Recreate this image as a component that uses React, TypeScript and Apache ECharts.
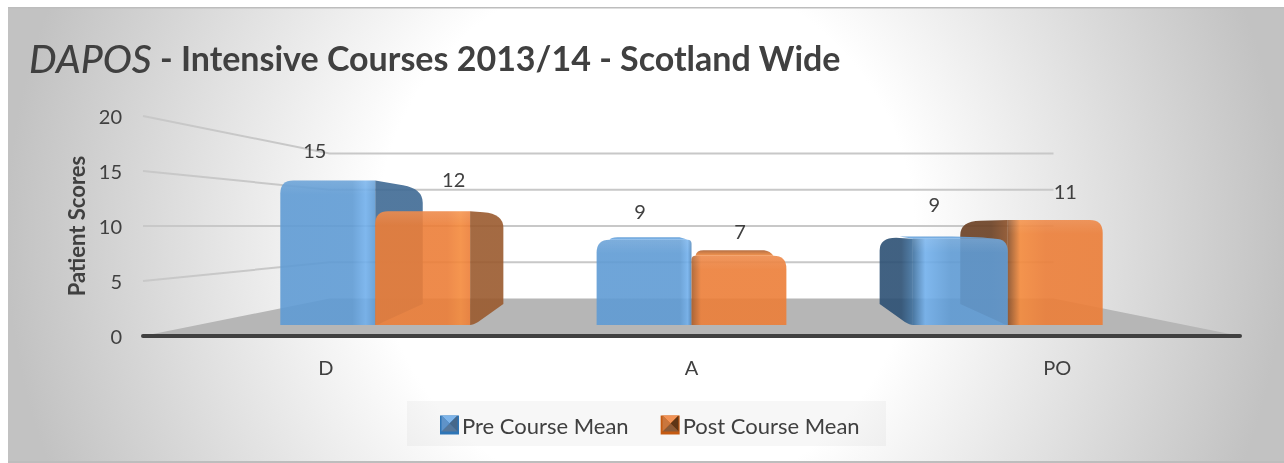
import React, { useEffect, useRef } from "react";
import * as echarts from "echarts";

const categories = ["D", "A", "PO"];
const preCourseMean = [14.6, 8.6, 8.7];
const postCourseMean = [11.5, 7.0, 10.6];
const tickValues = [0, 5, 10, 15, 20];

// label nudges from the bar's front-top centre (layout only)
const preLabelNudge = [[-13, -30], [-4, -26], [-26, -33]];
const postLabelNudge = [[31, -32], [1, -19], [10, -29]];

const FONT = "Lato";
const TEXT = "#404040";
const HORIZON_VALUE = 10;
const WALL_X = 0.66, WALL_Y = 0.659;
const FRONT_X = 0.865, BACK_X = 0.735, FRONT_Y = 0.9, BACK_Y = 0.736;
const R = 13;

const BLUE = { face: "#5f9bd4", hi: "#72b0ec", edge: "#4f86bb", side: "#3f6a94", dark: "#2c5074", mid: "#3f719f", sliver: "#5f9bd4" };
const ORANGE = { face: "#ec7e38", hi: "#f48a3c", edge: "#a95c28", side: "#9a5a2e", dark: "#6a3f22", mid: "#8c5028", sliver: "#ad6030" };

const lin = (stops: [number, string][]) =>
  new echarts.graphic.LinearGradient(0, 0, 1, 0, stops.map(([offset, color]) => ({ offset, color })));

function wallsItem(_params: any, api: any) {
  const band = api.size([1, 0])[0];
  const vx = api.coord([1, 0])[0];
  const vy = api.coord([0, HORIZON_VALUE])[1];
  const x0 = api.coord([0, 0])[0] - band / 2;
  const x1 = api.coord([2, 0])[0] + band / 2;
  const bx = (x: number) => vx + (x - vx) * WALL_X;
  const by = (y: number) => vy + (y - vy) * WALL_Y;
  const y0 = api.coord([0, 0])[1];
  const children: any[] = [
    {
      type: "polygon",
      shape: { points: [[x0, y0], [bx(x0), by(y0)], [bx(x1), by(y0)], [x1, y0]] },
      style: { fill: "#b6b6b6" },
      z2: 0,
    },
  ];
  tickValues.slice(1).forEach((t) => {
    const y = api.coord([0, t])[1];
    children.push({
      type: "polyline",
      shape: { points: [[x0, y], [bx(x0), by(y)], [bx(x1), by(y)]] },
      style: { stroke: "#c8c8c8", lineWidth: 2, fill: "none" },
      z2: 1,
    });
  });
  return { type: "group", children };
}

function barItem(series: number, palette: typeof BLUE, nudges: number[][]) {
  return (_params: any, api: any) => {
    const cat = api.value(0);
    const v = api.value(1);
    const band = api.size([1, 0])[0];
    const barW = band * 0.3;
    const [cx, yTop] = api.coord([cat, v]);
    const y0 = api.coord([cat, 0])[1];
    const vx = api.coord([1, 0])[0];
    const vy = api.coord([0, HORIZON_VALUE])[1];
    const xl = series === 0 ? cx - barW : cx;
    const xr = series === 0 ? cx : cx + barW;
    const fx = (x: number) => vx + (x - vx) * FRONT_X;
    const bkx = (x: number) => vx + (x - vx) * BACK_X;
    const fy = (y: number) => vy + (y - vy) * FRONT_Y;
    const bky = (y: number) => vy + (y - vy) * BACK_Y;
    const lf = fx(xl), rf = fx(xr), tf = fy(yTop), bf = fy(y0);
    const lb = bkx(xl), rb = bkx(xr), tb = bky(yTop), bb = bky(y0);
    const rightSide = rb > rf + 1;
    const leftSide = lb < lf - 1;
    // painter's order: nearer the centre of the view is drawn later
    const base = 10 + (leftSide ? (series === 0 ? 20 : 10) : series === 0 ? 10 : 20);
    const o = 0.9;
    const children: any[] = [];
    const CX = 20, CY = 14;
    const rl = Math.abs(lf - vx) < 2 ? 4 : R;
    const rr = Math.abs(rf - vx) < 2 ? 4 : R;

    if (rightSide) {
      const len = Math.hypot(rb - rf, tb - tf);
      const px = rb - ((rb - rf) * CX) / len, py = tb - ((tb - tf) * CX) / len;
      children.push({
        type: "path",
        shape: { pathData: `M${rf} ${tf}L${px} ${py}Q${rb} ${tb} ${rb} ${tb + CY}L${rb} ${bb - 3}L${rf + 8} ${bf - 3}Q${rf + 3} ${bf} ${rf} ${bf}Z` },
        style: { fill: lin([[0, palette.side], [1, palette.side]]), opacity: o },
        z2: base,
      });
    }
    if (leftSide) {
      const len = Math.hypot(lf - lb, tb - tf);
      const px = lb + ((lf - lb) * CX) / len, py = tb + ((tf - tb) * CX) / len;
      children.push({
        type: "path",
        shape: { pathData: `M${lf} ${tf}L${px} ${py}Q${lb} ${tb} ${lb} ${tb + CY}L${lb} ${bb - 3}L${lf - 8} ${bf - 3}Q${lf - 3} ${bf} ${lf} ${bf}Z` },
        style: { fill: lin([[0, palette.dark], [0.65, palette.dark], [1, palette.mid]]), opacity: o },
        z2: base,
      });
    }
    const topL = leftSide ? lf : lf + rl;
    const topR = rightSide ? rf : rf - rr;
    if (tb < tf - 1) {
      const sl = leftSide ? lb + CX : lb;
      const sr = rightSide ? rb - CX : Math.min(rb, topR) - 8;
      const leftCurve = leftSide ? `L${sl} ${tb}` : `Q${topL + 1} ${tb} ${topL + 8} ${tb}`;
      children.push({
        type: "path",
        shape: { pathData: `M${topL} ${tf}${leftCurve}L${sr} ${tb}Q${topR - 3} ${tb + 1} ${topR} ${tf}Z` },
        style: {
          fill: new echarts.graphic.LinearGradient(0, 0, 0, 1, [
            { offset: 0, color: palette.sliver },
            { offset: 1, color: palette.hi },
          ]),
          opacity: o,
        },
        z2: base,
      });
    }
    let frontStops: [number, string][];
    if (rightSide) {
      frontStops = [[0, palette.face], [0.76, palette.face], [0.9, palette.hi], [1, palette.face]];
    } else if (leftSide) {
      frontStops = [[0, palette.mid], [0.13, palette.hi], [0.4, palette.face], [1, palette.face]];
    } else if (Math.abs(rf - vx) < 2) {
      frontStops = [[0, palette.face], [0.88, palette.face], [0.96, palette.hi], [1, palette.edge]];
    } else {
      frontStops = [[0, palette.edge], [0.1, palette.face], [1, palette.face]];
    }
    const tlPath = leftSide ? `M${lf} ${tf}` : `M${lf} ${tf + rl}Q${lf} ${tf} ${lf + rl} ${tf}`;
    const trPath = rightSide ? `L${rf} ${tf}` : `L${rf - rr} ${tf}Q${rf} ${tf} ${rf} ${tf + rr}`;
    children.push({
      type: "path",
      shape: { pathData: `${tlPath}${trPath}L${rf} ${bf}L${lf} ${bf}Z` },
      style: { fill: lin(frontStops), opacity: o },
      z2: base + 1,
    });
    children.push({
      type: "path",
      shape: { pathData: `${tlPath}${trPath}L${rf} ${tf + 14}L${lf} ${tf + 14}Z` },
      style: {
        fill: new echarts.graphic.LinearGradient(0, 0, 0, 1, [
          { offset: 0, color: "rgba(255,255,255,0.1)" },
          { offset: 1, color: "rgba(255,255,255,0)" },
        ]),
      },
      z2: base + 2,
    });
    const n = nudges[cat];
    children.push({
      type: "text",
      style: {
        text: String(Math.round(v)),
        x: (lf + rf) / 2 + n[0],
        y: Math.min(tf, tb) + n[1],
        align: "center",
        verticalAlign: "middle",
        fontFamily: FONT,
        fontSize: 20,
        fill: TEXT,
      },
      z2: 1000,
    });
    return { type: "group", children };
  };
}

function legendIcon(x: number, y: number, s: number, cols: string[]) {
  const c = [x + s / 2, y + s / 2];
  const a = [x, y], b = [x + s, y], d = [x + s, y + s], e = [x, y + s];
  const tri = [[a, b], [b, d], [d, e], [e, a]];
  return tri.map(([p, q], i) => ({
    type: "polygon",
    z: 10,
    silent: true,
    shape: { points: [p, q, c] },
    style: { fill: cols[i] },
  }));
}

export default function App() {
  const ref = useRef<HTMLDivElement>(null);
  useEffect(() => {
    const chart = echarts.init(ref.current!, undefined, { renderer: "svg" });
    chart.setOption({
      animation: false,
      title: {
        left: 29,
        top: 38,
        padding: 0,
        text: "{a|DAPOS}{b| - Intensive Courses 2013/14 - Scotland Wide}",
        textStyle: {
          rich: {
            a: { fontFamily: FONT, fontStyle: "italic", fontSize: 39, color: TEXT, fontWeight: 500 },
            b: { fontFamily: FONT, fontWeight: "bold", fontSize: 34, color: TEXT },
          },
        },
      },
      legend: {
        left: 440,
        top: 414,
        padding: 0,
        icon: "rect",
        itemWidth: 19,
        itemHeight: 19,
        itemGap: 32,
        selectedMode: false,
        data: ["Pre Course Mean", "Post Course Mean"],
        textStyle: { fontFamily: FONT, fontSize: 22, color: TEXT, padding: [0, 0, 8, -2] },
      },
      grid: { left: 143, top: 116, width: 1097, height: 220 },
      xAxis: {
        type: "category",
        data: categories,
        z: 5,
        axisTick: { show: false },
        axisLine: { lineStyle: { color: "#404040", width: 4 } },
        axisLabel: { fontFamily: FONT, fontSize: 20, color: TEXT, margin: 21 },
      },
      yAxis: {
        type: "value",
        min: 0,
        max: 20,
        interval: 5,
        name: "Patient Scores",
        nameLocation: "middle",
        nameGap: 55,
        nameTextStyle: { fontFamily: FONT, fontWeight: "bold", fontSize: 22, color: TEXT },
        axisLine: { show: false },
        axisTick: { show: false },
        splitLine: { show: false },
        axisLabel: { fontFamily: FONT, fontSize: 20, color: TEXT, margin: 21 },
      },
      graphic: [
        {
          type: "rect",
          z: -10,
          silent: true,
          shape: { x: 8, y: 8, width: 1276, height: 453 },
          style: {
            fill: new echarts.graphic.RadialGradient(646, 235, 640, [
              { offset: 0, color: "#ffffff" },
              { offset: 0.42, color: "#ffffff" },
              { offset: 1, color: "#c2c2c2" },
            ], true),
          },
        },
        { type: "rect", z: -9, silent: true, shape: { x: 8, y: 7, width: 1276, height: 1.5 }, style: { fill: "#bdbdbd" } },
        { type: "rect", z: -9, silent: true, shape: { x: 8, y: 461, width: 1276, height: 2 }, style: { fill: "#bdbdbd" } },
        { type: "rect", z: -8, silent: true, shape: { x: 407, y: 401, width: 479, height: 45 }, style: { fill: "rgba(0,0,0,0.03)" } },
        ...legendIcon(441.5, 415.5, 16, ["#7fb5ea", "#46688a", "#56779a", "#5f93c8"]),
        ...legendIcon(662.5, 415.5, 16, ["#f29356", "#5e3516", "#8a5a38", "#c9763d"]),
      ],
      series: [
        { name: "walls", type: "custom", silent: true, clip: false, renderItem: wallsItem, data: [[0, 0]], encode: { x: 0, y: 1 } },
        {
          name: "Pre Course Mean",
          type: "custom",
          clip: false,
          itemStyle: { color: "#2e75b6" },
          renderItem: barItem(0, BLUE, preLabelNudge),
          data: preCourseMean.map((v, i) => [i, v]),
          encode: { x: 0, y: 1 },
        },
        {
          name: "Post Course Mean",
          type: "custom",
          clip: false,
          itemStyle: { color: "#c55a11" },
          renderItem: barItem(1, ORANGE, postLabelNudge),
          data: postCourseMean.map((v, i) => [i, v]),
          encode: { x: 0, y: 1 },
        },
      ],
    });
    return () => chart.dispose();
  }, []);
  return <div ref={ref} style={{ position: "fixed", left: 0, top: 0, width: 1284, height: 463 }} />;
}
